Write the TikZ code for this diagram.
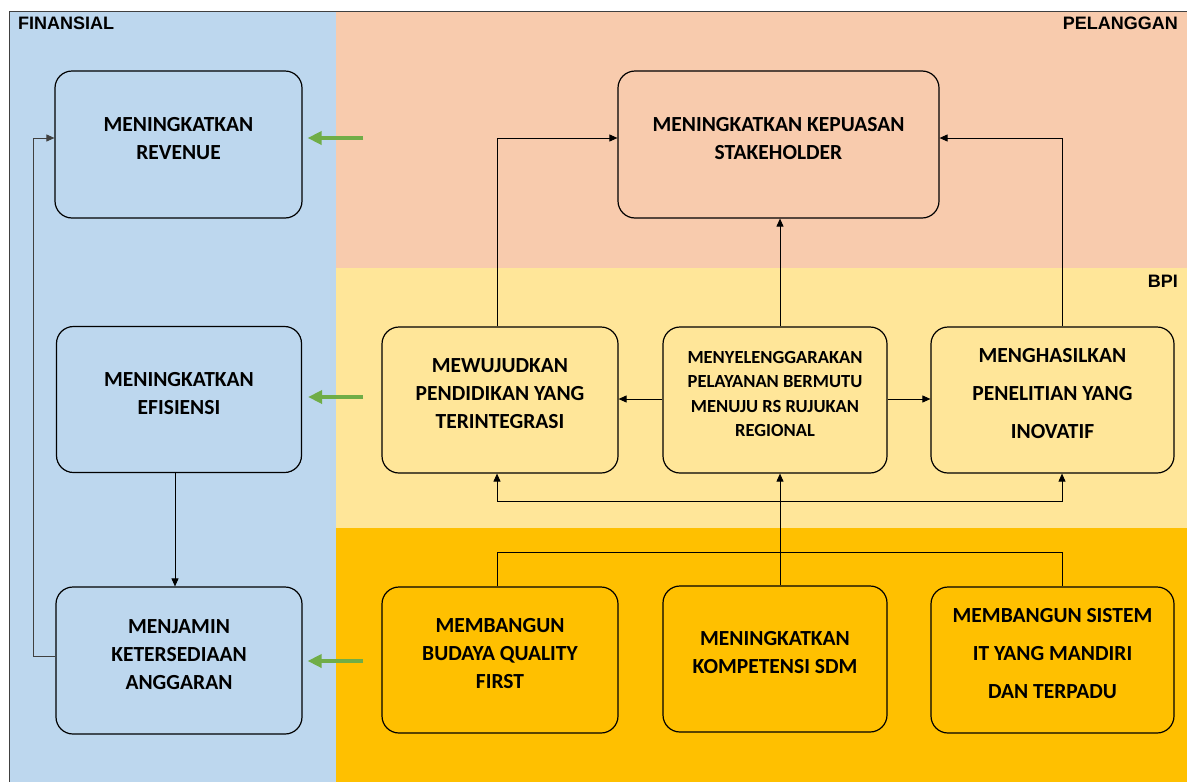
\documentclass[tikz,border=0pt]{standalone}
\usepackage{fontspec}
\setmainfont{Carlito}
\newfontfamily\labfont{Liberation Sans}
\usetikzlibrary{arrows.meta}
\definecolor{finblue}{HTML}{BDD7EE}
\definecolor{custor}{HTML}{F8CBAD}
\definecolor{bpiyel}{HTML}{FFE699}
\definecolor{lgold}{HTML}{FFC000}
\definecolor{grarrow}{HTML}{70AD47}
\definecolor{frame}{HTML}{404040}
\begin{document}
\begin{tikzpicture}[x=1pt,y=-1pt,
  box/.style={draw=black, line width=1.2pt, rounded corners=17pt, inner sep=0pt},
  txt/.style={font=\fontsize{21.5}{28}\selectfont\bfseries, align=center, inner sep=0pt},
  txtwide/.style={font=\fontsize{21.5}{38}\selectfont\bfseries, align=center, inner sep=0pt},
  txtsmall/.style={font=\fontsize{18.5}{24.5}\selectfont\bfseries, align=center, inner sep=0pt},
  panel/.style={font=\labfont\fontsize{18}{20}\selectfont\bfseries, inner sep=0pt},
  conn/.style={draw=black, line width=0.9pt},
  tip/.style={-{Triangle[length=8pt,width=7pt]}},
  gr/.style={draw=grarrow, line width=4.5pt, -{Triangle[length=14pt,width=13pt]}}
]
\useasboundingbox (0,0) rectangle (1187,782);
% background panels
\fill[finblue] (10,11) rectangle (336,782);
\fill[custor] (336,11) rectangle (1187,268);
\fill[bpiyel] (336,268) rectangle (1187,528);
\fill[lgold] (336,528) rectangle (1187,782);
\draw[frame, line width=1pt] (9.5,782) -- (9.5,11) -- (1187,11);

\node[panel, anchor=base west] (lfin) at (18,29) {FINANSIAL};
\node[panel, anchor=base east] (lpel) at (1178,29) {PELANGGAN};
\node[panel, anchor=base east] (lbpi) at (1178,287) {BPI};

% boxes
\node[box, fill=finblue, minimum width=247pt, minimum height=147pt] (rev) at (178.5,144.5) {};
\node[box, fill=finblue, minimum width=245pt, minimum height=146pt] (efi) at (179,399.5) {};
\node[box, fill=finblue, minimum width=246pt, minimum height=147pt] (ang) at (179,660.5) {};
\node[box, fill=custor, minimum width=321pt, minimum height=147pt] (kep) at (778.5,144.5) {};
\node[box, fill=bpiyel, minimum width=236pt, minimum height=146pt] (pend) at (500,400) {};
\node[box, fill=bpiyel, minimum width=224pt, minimum height=146pt] (pel) at (775,400) {};
\node[box, fill=bpiyel, minimum width=243pt, minimum height=146pt] (pen) at (1052.5,400) {};
\node[box, fill=lgold, minimum width=236pt, minimum height=146pt] (bud) at (500,660) {};
\node[box, fill=lgold, minimum width=224pt, minimum height=146pt] (kom) at (775,659) {};
\node[box, fill=lgold, minimum width=243pt, minimum height=146pt] (sis) at (1052.5,660) {};

% texts
\node[txt] (trev) at ([yshift=6pt]rev.center) {MENINGKATKAN\\REVENUE};
\node[txt] (tefi) at ([yshift=6pt]efi.center) {MENINGKATKAN\\EFISIENSI};
\node[txt] (tang) at ([yshift=6pt]ang.center) {MENJAMIN\\KETERSEDIAAN\\ANGGARAN};
\node[txt] (tkep) at ([yshift=6pt]kep.center) {MENINGKATKAN KEPUASAN\\STAKEHOLDER};
\node[txt] (tpend) at ([yshift=6pt]pend.center) {MEWUJUDKAN\\PENDIDIKAN YANG\\TERINTEGRASI};
\node[txtsmall] (tpel) at ([yshift=6pt]pel.center) {MENYELENGGARAKAN\\PELAYANAN BERMUTU\\MENUJU RS RUJUKAN\\REGIONAL};
\node[txtwide] (tpen) at ([yshift=6pt]pen.center) {MENGHASILKAN\\PENELITIAN YANG\\INOVATIF};
\node[txt] (tbud) at ([yshift=6pt]bud.center) {MEMBANGUN\\BUDAYA QUALITY\\FIRST};
\node[txt] (tkom) at ([yshift=6pt]kom.center) {MENINGKATKAN\\KOMPETENSI SDM};
\node[txtwide] (tsis) at ([yshift=6pt]sis.center) {MEMBANGUN SISTEM\\IT YANG MANDIRI\\DAN TERPADU};

% column coordinates
\coordinate (xL) at (497,0);
\coordinate (xM) at (780,0);
\coordinate (xR) at (1062,0);
\coordinate (xF) at (33,0);
\coordinate (yU) at (0,501);
\coordinate (yD) at (0,552);
\coordinate (aw) at ([yshift=4.5pt]ang.west);
\coordinate (rw) at ([yshift=6.5pt]rev.west);

% connectors
\draw[conn, tip] (pend.north -| xL) |- ([yshift=6.5pt]kep.west);
\draw[conn, tip] (pen.north -| xR) |- ([yshift=6.5pt]kep.east);
\draw[conn, tip] (pel.north -| xM) -- (kep.south -| xM);
\draw[conn, tip] ([yshift=1pt]pel.west) -- ([yshift=1pt]pend.east);
\draw[conn, tip] ([yshift=1pt]pel.east) -- ([yshift=1pt]pen.west);
\draw[conn, tip] (kom.north -| xM) -- (pel.south -| xM);
\draw[conn, {Triangle[length=8pt,width=7pt]}-{Triangle[length=8pt,width=7pt]}] (pend.south -| xL) -- (xL |- yU) -- (xR |- yU) -- (pen.south -| xR);
\draw[conn] (bud.north -| xL) -- (xL |- yD) -- (xR |- yD) -- (sis.north -| xR);
\draw[conn, tip] ([xshift=-4pt]efi.south) -- ([xshift=-4pt]ang.north);
\draw[conn, draw=frame, tip] (aw) -- (xF |- aw) |- (rw);

% green arrows
\coordinate (g1) at (363,138);
\coordinate (g2) at (363,397);
\coordinate (g3) at (363,661);
\draw[gr] (g1) -- ([xshift=5pt]rev.east |- g1);
\draw[gr] (g2) -- ([xshift=6pt]efi.east |- g2);
\draw[gr] (g3) -- ([xshift=5pt]ang.east |- g3);
\end{tikzpicture}
\end{document}
